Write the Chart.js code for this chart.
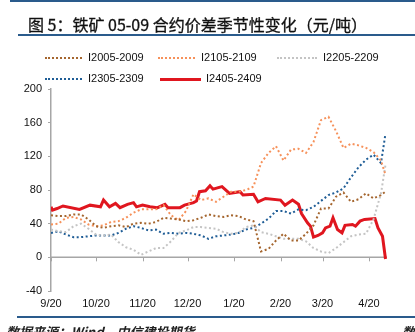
<!DOCTYPE html>
<html>
<head>
<meta charset="utf-8">
<script src="https://cdn.jsdelivr.net/npm/chart.js@4.4.1/dist/chart.umd.min.js"></script>
<style>
  body { margin: 0; background: #fff; }
  #wrap { position: relative; width: 415px; height: 332px; overflow: hidden; font-family: "Liberation Sans", Arial, sans-serif; }
  #chart { position: absolute; left: 0; top: 0; }
  .rule { position: absolute; background: #2a5b8c; }
  #title { position: absolute; left: 28px; top: 12px; font: 16px "Noto Sans CJK SC", sans-serif; color: #111; white-space: nowrap; -webkit-text-stroke: 0.3px #111; }
  .lg { position: absolute; height: 14px; font-size: 11px; color: #111; white-space: nowrap; line-height: 14px; }
  .lg i { display: inline-block; width: 37px; vertical-align: middle; margin-right: 6px; }
  #src { position: absolute; left: 6px; top: 322px; font: italic bold 13px "Noto Sans CJK SC", sans-serif; color: #222; white-space: nowrap; }
  #src2 { position: absolute; left: 402px; top: 322px; font: italic bold 13px "Noto Sans CJK SC", sans-serif; color: #222; }
</style>
</head>
<body>
<div id="wrap">
  <canvas id="chart" width="415" height="332"></canvas>
  <div class="rule" style="left:10px;top:0;width:405px;height:2px"></div>
  <div id="title">图 5：铁矿 05-09 合约价差季节性变化（元/吨）</div>
  <div class="rule" style="left:18px;top:34px;width:397px;height:2px"></div>
  <div class="lg" style="left:45px;top:50px"><i style="border-top:2px dotted #a5662f"></i>I2005-2009</div>
  <div class="lg" style="left:158px;top:50px"><i style="border-top:2px dotted #f6915a"></i>I2105-2109</div>
  <div class="lg" style="left:277px;top:50px"><i style="border-top:2px dotted #c4c4c4;width:40px"></i>I2205-2209</div>
  <div class="lg" style="left:45px;top:71px"><i style="border-top:2px dotted #1f5d96"></i>I2305-2309</div>
  <div class="lg" style="left:160px;top:71px"><i style="border-top:3px solid #e0161f;width:41px;margin-right:5px"></i>I2405-2409</div>
  <div class="rule" style="left:17px;top:316px;width:398px;height:2px"></div>
  <div id="src">数据来源：Wind，中信建投期货</div>
  <div id="src2">数</div>
</div>
<script>
// days since 9/20
const days = [0, 5, 10, 15, 20, 25, 30, 35, 40, 45, 50, 55, 60, 65, 70, 75, 80, 85, 90, 95,
  100, 105, 110, 115, 120, 125, 130, 135, 140, 145, 150, 155, 160, 165, 170, 175, 180, 185,
  190, 195, 200, 205, 210, 215, 220, 223];

const s2005 = [50, 49, 49, 51, 51, 45, 37, 35, 37, 38, 36, 40, 41, 40, 42, 47, 46, 45, 43, 44,
  47, 51, 49, 48, 50, 49, 45, 43, 7, 10, 20, 28, 20, 20, 28, 38, 58, 58, 72, 77, 66, 69, 76, 70, 74, 78];
const s2105 = [39, 40, 47, 48, 45, 39, 37, 38, 42, 43, 47, 53, 57, 57, 57, 62, 50, 44, 55, 75,
  68, 70, 66, 72, 78, 78, 80, 84, 112, 124, 132, 115, 128, 129, 124, 137, 163, 167, 150, 130,
  135, 133, 130, 125, 115, 98];
const s2205 = [33, 31, 30, 37, 40, 34, 27, 26, 27, 18, 12, 9, 3, 7, 11, 11, 19, 29, 32, 36,
  36, 35, 34, 30, 28, 29, 36, 38, 30, 28, 25, 22, 22, 22, 19, 11, 7, 5, 11, 18, 25, 27, 28, 45, 76, 110];
const s2305 = [29, 31, 27, 24, 24, 25, 26, 26, 26, 29, 34, 37, 35, 32, 33, 28, 29, 28, 29, 28,
  26, 22, 25, 26, 27, 29, 33, 35, 40, 46, 55, 55, 52, 57, 56, 60, 67, 74, 77, 82, 95, 107, 116, 122, 112, 147];

// red series read at its own dates (sharper moves)
const days2405 = [0, 1, 4, 8, 19, 26, 33, 35, 39, 43, 46, 51, 55, 57, 61, 66, 71, 76, 78, 86,
  89, 95, 97, 99, 103, 106, 108, 114, 119, 126, 128, 135, 138, 143, 153, 156, 161, 165, 167,
  171, 173, 175, 178, 181, 183, 186, 188, 191, 194, 196, 201, 203, 206, 209, 216, 218, 221, 223];
const s2405 = [60, 56, 58, 61, 57, 62, 60, 68, 60, 64, 59, 63, 65, 60, 62, 60, 59, 63, 59, 59,
  62, 65, 67, 78, 79, 85, 81, 84, 76, 78, 74, 75, 66, 70, 68, 62, 68, 63, 52,
  41, 37, 24, 26, 29, 35, 37, 47, 33, 29, 38, 39, 37, 43, 45, 46, 35, 25, -2];

const tickDays = [0, 30, 61, 91, 122, 153, 181, 212];
const tickLabels = ['9/20', '10/20', '11/20', '12/20', '1/20', '2/20', '3/20', '4/20'];
const yTicks = [200, 160, 120, 80, 40, 0, -40];

function pts(xs, ys) {
  return ys.map((v, i) => ({ x: xs[i], y: v }));
}

function dotted(label, color, xs, ys) {
  return {
    label: label,
    data: pts(xs, ys),
    borderColor: color,
    borderWidth: 2,
    borderDash: [2, 2.5],
    pointRadius: 0,
    tension: 0,
    fill: false
  };
}

// x axis line sits at y = 0, labels stay at the bottom
const zeroAxis = {
  id: 'zeroAxis',
  beforeDatasetsDraw(chart) {
    const x = chart.scales.x, y = chart.scales.y;
    const y0 = y.getPixelForValue(0);
    const ctx = chart.ctx;
    ctx.save();
    ctx.strokeStyle = '#a6a6a6';
    ctx.lineWidth = 1.5;
    ctx.beginPath();
    ctx.moveTo(chart.chartArea.left, y0);
    ctx.lineTo(chart.chartArea.right, y0);
    ctx.stroke();
    ctx.lineWidth = 1;
    tickDays.forEach(d => {
      const px = Math.round(x.getPixelForValue(d)) + 0.5;
      ctx.beginPath();
      ctx.moveTo(px, y0);
      ctx.lineTo(px, y0 + 4);
      ctx.stroke();
    });
    ctx.restore();
  }
};

new Chart(document.getElementById('chart'), {
  type: 'line',
  data: {
    datasets: [
      dotted('I2005-2009', '#a5662f', days, s2005),
      dotted('I2105-2109', '#f6915a', days, s2105),
      dotted('I2205-2209', '#c4c4c4', days, s2205),
      dotted('I2305-2309', '#1f5d96', days, s2305),
      {
        label: 'I2405-2409',
        data: pts(days2405, s2405),
        borderColor: '#e0161f',
        borderWidth: 3,
        pointRadius: 0,
        tension: 0,
        fill: false
      }
    ]
  },
  options: {
    responsive: false,
    animation: false,
    events: [],
    layout: { padding: { left: 15, right: 28, top: 89, bottom: 21 } },
    plugins: { legend: { display: false }, tooltip: { enabled: false } },
    scales: {
      x: {
        type: 'linear',
        min: 0,
        max: 224,
        afterBuildTicks: s => { s.ticks = tickDays.map(v => ({ value: v })); },
        afterFit: s => { s.height = 20; },
        grid: { display: false, drawTicks: false },
        border: { display: false },
        ticks: {
          autoSkip: false,
          maxRotation: 0,
          padding: 6,
          color: '#111',
          font: { family: 'Liberation Sans', size: 11 },
          callback: v => tickLabels[tickDays.indexOf(v)]
        }
      },
      y: {
        min: -40,
        max: 200,
        afterBuildTicks: s => { s.ticks = yTicks.map(v => ({ value: v })); },
        afterFit: s => { s.width = 36; },
        grid: { drawOnChartArea: false, tickLength: 3, color: '#a6a6a6' },
        border: { color: '#a6a6a6', width: 1.5 },
        ticks: {
          padding: 6,
          color: '#111',
          font: { family: 'Liberation Sans', size: 11 }
        }
      }
    }
  },
  plugins: [zeroAxis]
});
</script>
</body>
</html>
